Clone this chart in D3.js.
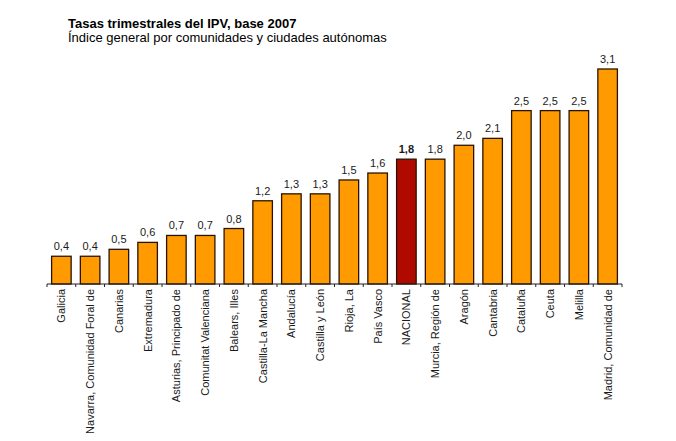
<!DOCTYPE html>
<html>
<head>
<meta charset="utf-8">
<script src="https://cdn.jsdelivr.net/npm/d3@7"></script>
<style>
  body { margin: 0; background: #fff; }
  text { font-family: "Liberation Sans", Arial, sans-serif; }
</style>
</head>
<body>
<script>
// regiones, ordenadas de menor a mayor tasa
var regiones = ["Galicia", "Navarra, Comunidad Foral de", "Canarias", "Extremadura",
  "Asturias, Principado de", "Comunitat Valenciana", "Balears, Illes", "Castilla-La Mancha",
  "Andalucía", "Castilla y León", "Rioja, La", "País Vasco", "NACIONAL",
  "Murcia, Región de", "Aragón", "Cantabria", "Cataluña", "Ceuta", "Melilla",
  "Madrid, Comunidad de"];
var tasas = [0.4, 0.4, 0.5, 0.6, 0.7, 0.7, 0.8, 1.2, 1.3, 1.3, 1.5, 1.6, 1.8,
  1.8, 2.0, 2.1, 2.5, 2.5, 2.5, 3.1];
var destacado = "NACIONAL";

var W = 676, H = 441;
var svg = d3.select("body").append("svg")
    .attr("width", W)
    .attr("height", H);

var x = d3.scaleBand()
    .domain(regiones)
    .range([47, 622])
    .paddingInner(0.32)
    .paddingOuter(0.16);

var y = d3.scaleLinear()
    .domain([0, 3.1])
    .range([284, 69]);

var fmt = function(v) { return d3.format(".1f")(v).replace(".", ","); };

// titulos
svg.append("text")
    .attr("x", 68).attr("y", 28)
    .style("font-size", "13px")
    .style("font-weight", "bold")
    .text("Tasas trimestrales del IPV, base 2007");
svg.append("text")
    .attr("x", 68).attr("y", 42)
    .style("font-size", "13px")
    .text("Índice general por comunidades y ciudades autónomas");

// barras
var datos = regiones.map(function(r, i) { return {reg: r, val: tasas[i]}; });

svg.selectAll(".bar")
    .data(datos)
  .enter().append("rect")
    .attr("class", "bar")
    .attr("x", function(d) { return x(d.reg); })
    .attr("width", x.bandwidth())
    .attr("y", function(d) { return y(d.val); })
    .attr("height", function(d) { return y(0) - y(d.val); })
    .attr("fill", function(d) { return d.reg === destacado ? "#b00a00" : "#ff9a00"; })
    .attr("stroke", "#2a1400")
    .attr("stroke-width", 1.3);

svg.selectAll(".val")
    .data(datos)
  .enter().append("text")
    .attr("class", "val")
    .attr("x", function(d) { return x(d.reg) + x.bandwidth() / 2; })
    .attr("y", function(d) { return y(d.val) - 6; })
    .attr("text-anchor", "middle")
    .style("font-size", "11px")
    .style("font-weight", function(d) { return d.reg === destacado ? "bold" : "normal"; })
    .attr("fill", "#1a1a1a")
    .text(function(d) { return fmt(d.val); });

// eje x
var eje = svg.append("g");
eje.append("line")
    .attr("x1", 47).attr("x2", 622)
    .attr("y1", y(0)).attr("y2", y(0))
    .attr("stroke", "#222").attr("stroke-width", 1.2);

var step = x.step();
var bordes = d3.range(regiones.length + 1).map(function(i) { return 47 + i * step; });
eje.selectAll(".tk")
    .data(bordes)
  .enter().append("line")
    .attr("x1", function(d) { return d; }).attr("x2", function(d) { return d; })
    .attr("y1", y(0)).attr("y2", y(0) + 3)
    .attr("stroke", "#222").attr("stroke-width", 1);

svg.selectAll(".cat")
    .data(regiones)
  .enter().append("text")
    .attr("class", "cat")
    .attr("transform", function(d) {
      return "translate(" + (x(d) + x.bandwidth() / 2 + 4) + "," + 289 + ") rotate(-90)";
    })
    .attr("text-anchor", "end")
    .style("font-size", "11px")
    .attr("fill", "#1a1a1a")
    .text(function(d) { return d; });
</script>
</body>
</html>
